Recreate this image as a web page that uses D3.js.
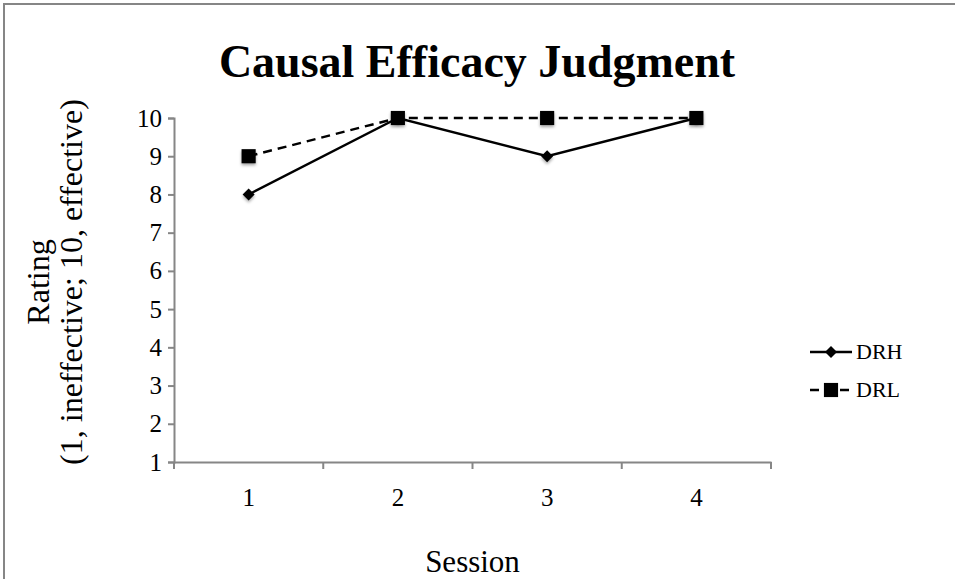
<!DOCTYPE html>
<html>
<head>
<meta charset="utf-8">
<script src="https://cdn.jsdelivr.net/npm/d3@7"></script>
<style>
  html, body { margin: 0; padding: 0; background: #fff; overflow: hidden; }
  svg { display: block; }
  text { font-family: "Liberation Serif", "Times New Roman", serif; fill: #000; }
</style>
</head>
<body>
<svg id="chart" width="955" height="579"></svg>
<script>
const sessions = ["1", "2", "3", "4"];
const drhValues = [8, 10, 9, 10];
const drlValues = [9, 10, 10, 10];
const yTicks = [1, 2, 3, 4, 5, 6, 7, 8, 9, 10];
const seriesNames = ["DRH", "DRL"];

const svg = d3.select("#chart");
const SERIF = "Liberation Serif, Times New Roman, serif";

// chart frame (extends past right/bottom edges)
svg.append("rect")
  .attr("x", 4).attr("y", 4)
  .attr("width", 1000).attr("height", 700)
  .attr("fill", "#fff").attr("stroke", "#868686").attr("stroke-width", 2);

const defs = svg.append("defs");
const f = defs.append("filter").attr("id", "shadow").attr("x", "-50%").attr("y", "-50%").attr("width", "200%").attr("height", "200%");
f.append("feDropShadow").attr("dx", 0).attr("dy", 2).attr("stdDeviation", 1.5).attr("flood-color", "#000").attr("flood-opacity", 0.35);

const plot = { left: 174, right: 771, top: 118, bottom: 462 };

const x = d3.scaleBand().domain(sessions).range([plot.left, plot.right]);
const y = d3.scaleLinear().domain([1, 10]).range([plot.bottom, plot.top]);

// y axis
const yAxis = svg.append("g")
  .attr("transform", `translate(${plot.left},0)`)
  .call(d3.axisLeft(y).tickValues(yTicks).tickSize(6).tickPadding(6).tickFormat(d3.format("d")));
yAxis.select(".domain").attr("stroke", "#868686").attr("stroke-width", 2);
yAxis.selectAll(".tick line").attr("stroke", "#868686").attr("stroke-width", 2);
yAxis.selectAll(".tick text").attr("font-size", 25).attr("font-family", SERIF).attr("fill", "#000");

// x axis
const xAxis = svg.append("g")
  .attr("transform", `translate(0,${plot.bottom})`)
  .call(d3.axisBottom(x).tickSize(0).tickPadding(26));
xAxis.select(".domain").attr("stroke", "#868686").attr("stroke-width", 2);
xAxis.selectAll(".tick text").attr("font-size", 25).attr("font-family", SERIF).attr("fill", "#000");
// category boundary ticks
const bounds = sessions.map(s => x(s)).concat([x(sessions[sessions.length - 1]) + x.bandwidth()]);
svg.append("g").selectAll("line").data(bounds).join("line")
  .attr("x1", d => d).attr("x2", d => d)
  .attr("y1", plot.bottom).attr("y2", plot.bottom + 7)
  .attr("stroke", "#868686").attr("stroke-width", 2);

const cx = s => x(s) + x.bandwidth() / 2;

const line = d3.line().x(d => cx(d.s)).y(d => y(d.v));
const drl = sessions.map((s, i) => ({ s, v: drlValues[i] }));
const drh = sessions.map((s, i) => ({ s, v: drhValues[i] }));

svg.append("path").datum(drl).attr("d", line)
  .attr("fill", "none").attr("stroke", "#000").attr("stroke-width", 2.4).attr("stroke-dasharray", "9,6");
svg.append("path").datum(drh).attr("d", line)
  .attr("fill", "none").attr("stroke", "#000").attr("stroke-width", 2.4);

const sq = d3.symbol().type(d3.symbolSquare).size(200);
const diamondType = {
  draw(ctx, size) {
    const r = Math.sqrt(size / 2);
    ctx.moveTo(0, -r); ctx.lineTo(r, 0); ctx.lineTo(0, r); ctx.lineTo(-r, 0); ctx.closePath();
  }
};
const di = d3.symbol().type(diamondType).size(72);

svg.append("g").selectAll("path").data(drh).join("path")
  .attr("d", di).attr("transform", d => `translate(${cx(d.s)},${y(d.v)})`)
  .attr("fill", "#000").attr("filter", "url(#shadow)");
svg.append("g").selectAll("path").data(drl).join("path")
  .attr("d", sq).attr("transform", d => `translate(${cx(d.s)},${y(d.v)})`)
  .attr("fill", "#000").attr("filter", "url(#shadow)");

// title
svg.append("text").attr("x", 477).attr("y", 77).attr("text-anchor", "middle")
  .attr("font-size", 46).attr("font-weight", "bold").text("Causal Efficacy Judgment");

// x axis title
svg.append("text").attr("x", (plot.left + plot.right) / 2).attr("y", 572).attr("text-anchor", "middle")
  .attr("font-size", 31).text("Session");

// y axis title
const yt = svg.append("text").attr("text-anchor", "middle")
  .attr("transform", `translate(49,282) rotate(-90)`)
  .attr("font-size", 32);
yt.append("tspan").attr("x", 0).attr("dy", 0).text("Rating");
yt.append("tspan").attr("x", 0).attr("dy", 33).text("(1, ineffective; 10, effective)");

// legend
const legendY = [352, 390];
const lg = svg.append("g");
seriesNames.forEach((name, i) => {
  const g = lg.append("g").attr("transform", `translate(810,${legendY[i]})`);
  g.append("line").attr("x1", 0).attr("x2", 42).attr("y1", 0).attr("y2", 0)
    .attr("stroke", "#000").attr("stroke-width", 2.4)
    .attr("stroke-dasharray", i === 1 ? "9,6" : null);
  g.append("path").attr("d", i === 0 ? di : sq).attr("transform", "translate(21,0)").attr("fill", "#000");
  g.append("text").attr("x", 46).attr("y", 7).attr("font-size", 22).text(name);
});
</script>
</body>
</html>
